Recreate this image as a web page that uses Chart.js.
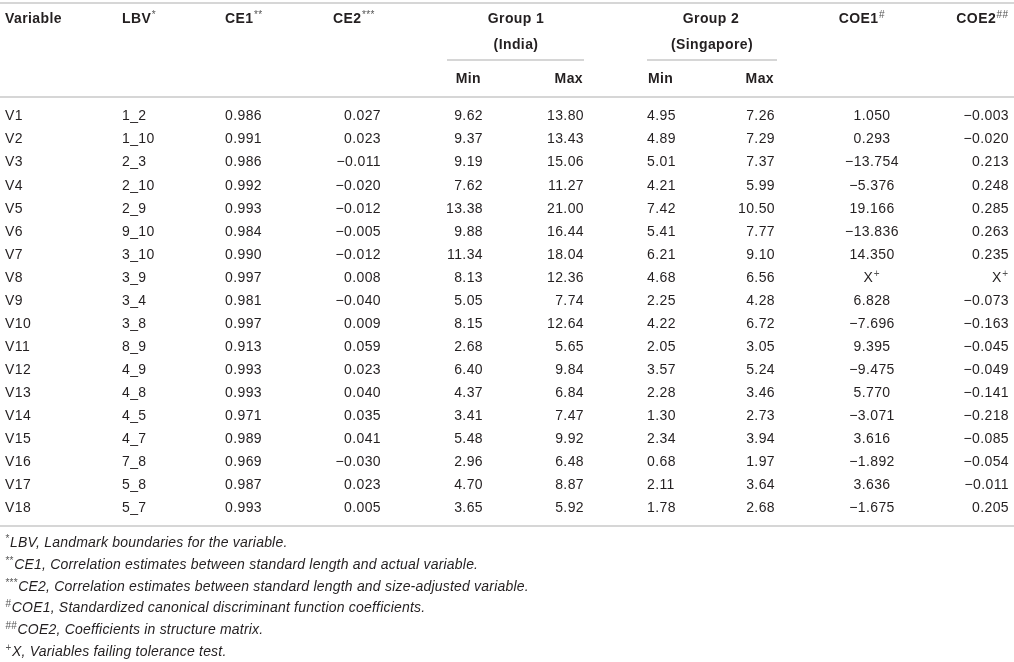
<!DOCTYPE html>
<html>
<head>
<meta charset="utf-8">
<title>Table</title>
<script src="https://cdn.jsdelivr.net/npm/chart.js@4/dist/chart.umd.min.js"></script>
<style>
  html, body { margin: 0; padding: 0; background: #fff; }
  .wrap { width: 1014px; height: 662px; position: relative; }
</style>
</head>
<body>
<div class="wrap"><canvas id="table"></canvas></div>
<script>
"use strict";
// table values, one array per column
const variables = ["V1", "V2", "V3", "V4", "V5", "V6", "V7", "V8", "V9",
  "V10", "V11", "V12", "V13", "V14", "V15", "V16", "V17", "V18"];
const lbv = ["1_2", "1_10", "2_3", "2_10", "2_9", "9_10", "3_10", "3_9", "3_4",
  "3_8", "8_9", "4_9", "4_8", "4_5", "4_7", "7_8", "5_8", "5_7"];
const ce1 = [0.986, 0.991, 0.986, 0.992, 0.993, 0.984, 0.990, 0.997, 0.981,
  0.997, 0.913, 0.993, 0.993, 0.971, 0.989, 0.969, 0.987, 0.993];
const ce2 = [0.027, 0.023, -0.011, -0.020, -0.012, -0.005, -0.012, 0.008, -0.040,
  0.009, 0.059, 0.023, 0.040, 0.035, 0.041, -0.030, 0.023, 0.005];
const g1Min = [9.62, 9.37, 9.19, 7.62, 13.38, 9.88, 11.34, 8.13, 5.05,
  8.15, 2.68, 6.40, 4.37, 3.41, 5.48, 2.96, 4.70, 3.65];
const g1Max = [13.80, 13.43, 15.06, 11.27, 21.00, 16.44, 18.04, 12.36, 7.74,
  12.64, 5.65, 9.84, 6.84, 7.47, 9.92, 6.48, 8.87, 5.92];
const g2Min = [4.95, 4.89, 5.01, 4.21, 7.42, 5.41, 6.21, 4.68, 2.25,
  4.22, 2.05, 3.57, 2.28, 1.30, 2.34, 0.68, 2.11, 1.78];
const g2Max = [7.26, 7.29, 7.37, 5.99, 10.50, 7.77, 9.10, 6.56, 4.28,
  6.72, 3.05, 5.24, 3.46, 2.73, 3.94, 1.97, 3.64, 2.68];
// null = variable failed the tolerance test (shown as X+)
const coe1 = [1.050, 0.293, -13.754, -5.376, 19.166, -13.836, 14.350, null, 6.828,
  -7.696, 9.395, -9.475, 5.770, -3.071, 3.616, -1.892, 3.636, -1.675];
const coe2 = [-0.003, -0.020, 0.213, 0.248, 0.285, 0.263, 0.235, null, -0.073,
  -0.163, -0.045, -0.049, -0.141, -0.218, -0.085, -0.054, -0.011, 0.205];

const footnotes = [
  ["*", "LBV, Landmark boundaries for the variable."],
  ["**", "CE1, Correlation estimates between standard length and actual variable."],
  ["***", "CE2, Correlation estimates between standard length and size-adjusted variable."],
  ["#", "COE1, Standardized canonical discriminant function coefficients."],
  ["##", "COE2, Coefficients in structure matrix."],
  ["+", "X, Variables failing tolerance test."]
];

// layout (canvas pixel units on both scales)
const W = 1014, H = 662;
const TEXT = "#231f20";
const RULE = "#c8c8c8";
const FONT = "'Liberation Sans', Arial, Helvetica, sans-serif";
const firstRowY = 116.5;
const rowStep = 23.06;
const headY = [19, 45, 79];
const footY = [543, 565, 587, 608.5, 630, 652];

const fmt = (d) => (v) => v === null ? [{ t: "X" }, { t: "+", sup: true }]
  : [{ t: v.toFixed(d).replace("-", "\u2212") }];
const txt = (v) => [{ t: v }];

const columns = [
  { values: variables, f: txt, x: 5, align: "left" },
  { values: lbv, f: txt, x: 122, align: "left" },
  { values: ce1, f: fmt(3), x: 225, align: "left" },
  { values: ce2, f: fmt(3), x: 381, align: "right" },
  { values: g1Min, f: fmt(2), x: 483, align: "right" },
  { values: g1Max, f: fmt(2), x: 584, align: "right" },
  { values: g2Min, f: fmt(2), x: 647, align: "left" },
  { values: g2Max, f: fmt(2), x: 775, align: "right" },
  { values: coe1, f: fmt(3), x: 872, align: "center" },
  { values: coe2, f: fmt(3), x: 1009, align: "right" }
];

const headers = [
  { seg: [{ t: "Variable" }], x: 5, row: 0, align: "left" },
  { seg: [{ t: "LBV" }, { t: "*", sup: true }], x: 122, row: 0, align: "left" },
  { seg: [{ t: "CE1" }, { t: "**", sup: true }], x: 225, row: 0, align: "left" },
  { seg: [{ t: "CE2" }, { t: "***", sup: true }], x: 333, row: 0, align: "left" },
  { seg: [{ t: "Group 1" }], x: 516, row: 0, align: "center" },
  { seg: [{ t: "(India)" }], x: 516, row: 1, align: "center" },
  { seg: [{ t: "Group 2" }], x: 711, row: 0, align: "center" },
  { seg: [{ t: "(Singapore)" }], x: 712, row: 1, align: "center" },
  { seg: [{ t: "COE1" }, { t: "#", sup: true }], x: 862, row: 0, align: "center" },
  { seg: [{ t: "COE2" }, { t: "##", sup: true }], x: 1009, row: 0, align: "right" },
  { seg: [{ t: "Min" }], x: 481, row: 2, align: "right" },
  { seg: [{ t: "Max" }], x: 583, row: 2, align: "right" },
  { seg: [{ t: "Min" }], x: 648, row: 2, align: "left" },
  { seg: [{ t: "Max" }], x: 774, row: 2, align: "right" }
];

const rules = [
  { y: 3, x0: 0, x1: W },
  { y: 60, x0: 447, x1: 584 },
  { y: 60, x0: 647, x1: 777 },
  { y: 97, x0: 0, x1: W },
  { y: 526, x0: 0, x1: W }
];

function setFont(ctx, size, style, spacing) {
  ctx.font = (style || "") + " " + size + "px " + FONT;
  if ("letterSpacing" in ctx) ctx.letterSpacing = spacing + "px";
}

function drawRich(ctx, seg, x, y, align, size, style, spacing) {
  const supSize = Math.round(size * 0.72);
  let total = 0;
  const widths = seg.map((s) => {
    setFont(ctx, s.sup ? supSize : size, s.sup ? "" : style, spacing);
    const w = ctx.measureText(s.t).width + (s.sup ? 1 : 0);
    total += w;
    return w;
  });
  let cx = x;
  if (align === "right") cx = x - total;
  else if (align === "center") cx = x - total / 2;
  seg.forEach((s, i) => {
    setFont(ctx, s.sup ? supSize : size, s.sup ? "" : style, spacing);
    ctx.fillStyle = s.sup ? "#555" : TEXT;
    ctx.textAlign = "left";
    ctx.textBaseline = "middle";
    ctx.fillText(s.t, cx + (s.sup ? 0.5 : 0), s.sup ? y - size * 0.28 : y);
    cx += widths[i];
  });
}

const tablePlugin = {
  id: "tablePlugin",
  afterDatasetsDraw(chart) {
    const ctx = chart.ctx;
    const xs = chart.scales.x;
    const ys = chart.scales.y;
    ctx.save();
    // rules
    ctx.strokeStyle = RULE;
    ctx.lineWidth = 1.5;
    rules.forEach((r) => {
      const py = ys.getPixelForValue(r.y);
      ctx.beginPath();
      ctx.moveTo(xs.getPixelForValue(r.x0), py);
      ctx.lineTo(xs.getPixelForValue(r.x1), py);
      ctx.stroke();
    });
    // header
    headers.forEach((h) => {
      drawRich(ctx, h.seg, xs.getPixelForValue(h.x), ys.getPixelForValue(headY[h.row]),
        h.align, 14, "bold", 0.4);
    });
    // body cells, placed on each dataset point
    chart.data.datasets.forEach((ds, di) => {
      const meta = chart.getDatasetMeta(di);
      const col = columns[di];
      meta.data.forEach((pt, i) => {
        drawRich(ctx, col.f(col.values[i]), pt.x, pt.y, col.align, 14, "", 0.4);
      });
    });
    // footnotes
    footnotes.forEach((fn, i) => {
      drawRich(ctx, [{ t: fn[0], sup: true }, { t: fn[1] }], xs.getPixelForValue(5),
        ys.getPixelForValue(footY[i]), "left", 14, "italic", 0.2);
    });
    ctx.restore();
  }
};

new Chart(document.querySelector("#table").getContext("2d"), {
  type: "scatter",
  data: {
    datasets: columns.map((col) => ({
      data: col.values.map((v, i) => ({ x: col.x, y: firstRowY + rowStep * i })),
      pointRadius: 0,
      pointHoverRadius: 0
    }))
  },
  options: {
    responsive: true,
    maintainAspectRatio: false,
    animation: false,
    events: [],
    layout: { padding: 0 },
    plugins: { legend: { display: false }, tooltip: { enabled: false } },
    scales: {
      x: { type: "linear", min: 0, max: W, display: false },
      y: { type: "linear", min: 0, max: H, reverse: true, display: false }
    }
  },
  plugins: [tablePlugin]
});
</script>
</body>
</html>
